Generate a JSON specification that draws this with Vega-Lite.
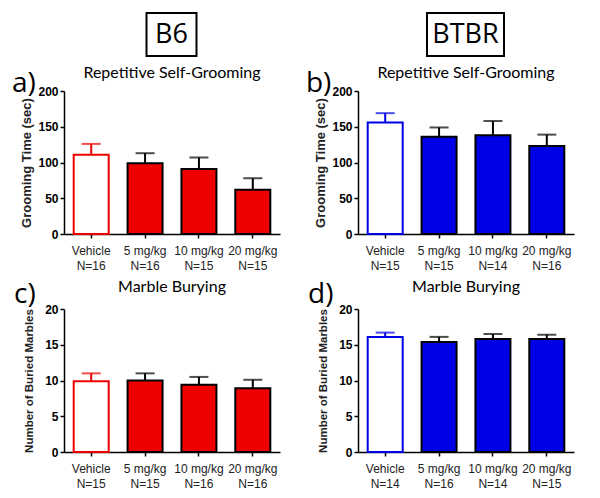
{
  "$schema": "https://vega.github.io/schema/vega-lite/v6.json",
  "background": "white",
  "padding": {"left": 11, "top": 12, "right": 5, "bottom": 5},
  "config": {
    "view": {"stroke": null},
    "font": "Liberation Sans",
    "title": {"color": "black"},
    "axisY": {"labelFontWeight": "bold", "labelFontSize": 12, "labelColor": "black", "labelOverlap": false, "labelPadding": 2, "minExtent": 26, "titleFontWeight": "bold", "titleColor": "#222", "titlePadding": 4, "tickSize": 4, "tickWidth": 1.5, "tickColor": "black", "domainColor": "black", "domainWidth": 1.5, "grid": false},
    "axisX": {"title": null, "labelAngle": 0, "labelExpr": "split(datum.label, '|')", "labelFontSize": 12, "labelLineHeight": 15, "labelColor": "#222", "labelPadding": 7, "tickSize": 4, "tickWidth": 1.5, "tickColor": "black", "domainColor": "black", "domainWidth": 1.5, "grid": false}
  },
  "datasets": {
    "bars": [
      {"panel": "a", "dose": "Vehicle", "label": "Vehicle|N=16", "mean": 111, "upper": 126},
      {"panel": "a", "dose": "5 mg/kg", "label": "5 mg/kg|N=16", "mean": 99, "upper": 113},
      {"panel": "a", "dose": "10 mg/kg", "label": "10 mg/kg|N=15", "mean": 91, "upper": 107},
      {"panel": "a", "dose": "20 mg/kg", "label": "20 mg/kg|N=15", "mean": 62, "upper": 78},
      {"panel": "b", "dose": "Vehicle", "label": "Vehicle|N=15", "mean": 156, "upper": 169},
      {"panel": "b", "dose": "5 mg/kg", "label": "5 mg/kg|N=15", "mean": 136, "upper": 149},
      {"panel": "b", "dose": "10 mg/kg", "label": "10 mg/kg|N=14", "mean": 138, "upper": 158},
      {"panel": "b", "dose": "20 mg/kg", "label": "20 mg/kg|N=16", "mean": 123, "upper": 139},
      {"panel": "c", "dose": "Vehicle", "label": "Vehicle|N=15", "mean": 9.9, "upper": 11.0},
      {"panel": "c", "dose": "5 mg/kg", "label": "5 mg/kg|N=15", "mean": 10.0, "upper": 11.0},
      {"panel": "c", "dose": "10 mg/kg", "label": "10 mg/kg|N=16", "mean": 9.4, "upper": 10.5},
      {"panel": "c", "dose": "20 mg/kg", "label": "20 mg/kg|N=16", "mean": 8.9, "upper": 10.1},
      {"panel": "d", "dose": "Vehicle", "label": "Vehicle|N=14", "mean": 16.1, "upper": 16.7},
      {"panel": "d", "dose": "5 mg/kg", "label": "5 mg/kg|N=16", "mean": 15.4, "upper": 16.1},
      {"panel": "d", "dose": "10 mg/kg", "label": "10 mg/kg|N=14", "mean": 15.8, "upper": 16.5},
      {"panel": "d", "dose": "20 mg/kg", "label": "20 mg/kg|N=15", "mean": 15.8, "upper": 16.4}
    ]
  },
  "hconcat": [
    {
      "center": true,
      "spacing": 8,
      "vconcat": [
        {
          "width": 50, "height": 43,
          "view": {"stroke": "black", "strokeWidth": 2},
          "data": {"values": [{"strain": "B6"}]},
          "mark": {"type": "text", "fontSize": 27, "font": "Open Sans", "baseline": "middle", "color": "black"},
          "encoding": {"text": {"field": "strain"}}
        },
        {
          "title": {"text": "a)", "anchor": "start", "fontSize": 28, "font": "Open Sans", "fontWeight": "normal", "offset": -33, "dx": -9},
          "vconcat": [
            {
              "width": 216, "height": 143,
              "title": {"text": "Repetitive Self-Grooming", "fontSize": 16, "font": "Lato", "fontWeight": "normal", "offset": 4, "frame": "group"},
              "data": {"name": "bars"},
              "transform": [{"filter": "datum.panel === 'a'"}],
              "encoding": {
                "x": {"field": "label", "type": "nominal", "sort": null,
                      "scale": {"paddingInner": 0.35, "paddingOuter": 0.18}},
                "y": {"field": "mean", "type": "quantitative", "title": "Grooming Time (sec)",
                      "scale": {"domain": [0, 200], "nice": false},
                      "axis": {"values": [0, 50, 100, 150, 200], "titleFontSize": 13}}
              },
              "layer": [
                {
                  "mark": {"type": "bar", "strokeWidth": 2},
                  "encoding": {
                    "fill": {"condition": {"test": "datum.dose === 'Vehicle'", "value": "white"}, "value": "#ee0000"},
                    "stroke": {"condition": {"test": "datum.dose === 'Vehicle'", "value": "#ee0000"}, "value": "black"}
                  }
                },
                {
                  "mark": {"type": "rule", "strokeWidth": 2},
                  "encoding": {
                    "y2": {"field": "upper"},
                    "color": {"condition": {"test": "datum.dose === 'Vehicle'", "value": "#ee0000"}, "value": "black"}
                  }
                },
                {
                  "mark": {"type": "tick", "thickness": 2, "size": 19},
                  "encoding": {
                    "y": {"field": "upper", "type": "quantitative", "title": "Grooming Time (sec)", "axis": {"values": [0, 50, 100, 150, 200], "titleFontSize": 13}},
                    "color": {"condition": {"test": "datum.dose === 'Vehicle'", "value": "#ee0000"}, "value": "black"}
                  }
                }
              ]
            }
          ]
        },
        {
          "title": {"text": "c)", "anchor": "start", "fontSize": 28, "font": "Open Sans", "fontWeight": "normal", "offset": -30, "dx": -9},
          "vconcat": [
            {
              "width": 216, "height": 143,
              "title": {"text": "Marble Burying", "fontSize": 16, "font": "Lato", "fontWeight": "normal", "offset": 8, "frame": "group"},
              "data": {"name": "bars"},
              "transform": [{"filter": "datum.panel === 'c'"}],
              "encoding": {
                "x": {"field": "label", "type": "nominal", "sort": null,
                      "scale": {"paddingInner": 0.35, "paddingOuter": 0.18}},
                "y": {"field": "mean", "type": "quantitative", "title": "Number of Buried Marbles",
                      "scale": {"domain": [0, 20], "nice": false},
                      "axis": {"values": [0, 5, 10, 15, 20], "titleFontSize": 11.5}}
              },
              "layer": [
                {
                  "mark": {"type": "bar", "strokeWidth": 2},
                  "encoding": {
                    "fill": {"condition": {"test": "datum.dose === 'Vehicle'", "value": "white"}, "value": "#ee0000"},
                    "stroke": {"condition": {"test": "datum.dose === 'Vehicle'", "value": "#ee0000"}, "value": "black"}
                  }
                },
                {
                  "mark": {"type": "rule", "strokeWidth": 2},
                  "encoding": {
                    "y2": {"field": "upper"},
                    "color": {"condition": {"test": "datum.dose === 'Vehicle'", "value": "#ee0000"}, "value": "black"}
                  }
                },
                {
                  "mark": {"type": "tick", "thickness": 2, "size": 19},
                  "encoding": {
                    "y": {"field": "upper", "type": "quantitative", "title": "Number of Buried Marbles", "axis": {"values": [0, 5, 10, 15, 20], "titleFontSize": 11.5}},
                    "color": {"condition": {"test": "datum.dose === 'Vehicle'", "value": "#ee0000"}, "value": "black"}
                  }
                }
              ]
            }
          ]
        }
      ]
    },
    {
      "center": true,
      "spacing": 8,
      "vconcat": [
        {
          "width": 77, "height": 43,
          "view": {"stroke": "black", "strokeWidth": 2},
          "data": {"values": [{"strain": "BTBR"}]},
          "mark": {"type": "text", "fontSize": 27, "font": "Open Sans", "baseline": "middle", "color": "black"},
          "encoding": {"text": {"field": "strain"}}
        },
        {
          "title": {"text": "b)", "anchor": "start", "fontSize": 28, "font": "Open Sans", "fontWeight": "normal", "offset": -33, "dx": -9},
          "vconcat": [
            {
              "width": 216, "height": 143,
              "title": {"text": "Repetitive  Self-Grooming", "fontSize": 16, "font": "Lato", "fontWeight": "normal", "offset": 4, "frame": "group"},
              "data": {"name": "bars"},
              "transform": [{"filter": "datum.panel === 'b'"}],
              "encoding": {
                "x": {"field": "label", "type": "nominal", "sort": null,
                      "scale": {"paddingInner": 0.35, "paddingOuter": 0.18}},
                "y": {"field": "mean", "type": "quantitative", "title": "Grooming Time (sec)",
                      "scale": {"domain": [0, 200], "nice": false},
                      "axis": {"values": [0, 50, 100, 150, 200], "titleFontSize": 13}}
              },
              "layer": [
                {
                  "mark": {"type": "bar", "strokeWidth": 2},
                  "encoding": {
                    "fill": {"condition": {"test": "datum.dose === 'Vehicle'", "value": "white"}, "value": "#0000e6"},
                    "stroke": {"condition": {"test": "datum.dose === 'Vehicle'", "value": "#0000e6"}, "value": "black"}
                  }
                },
                {
                  "mark": {"type": "rule", "strokeWidth": 2},
                  "encoding": {
                    "y2": {"field": "upper"},
                    "color": {"condition": {"test": "datum.dose === 'Vehicle'", "value": "#0000e6"}, "value": "black"}
                  }
                },
                {
                  "mark": {"type": "tick", "thickness": 2, "size": 19},
                  "encoding": {
                    "y": {"field": "upper", "type": "quantitative", "title": "Grooming Time (sec)", "axis": {"values": [0, 50, 100, 150, 200], "titleFontSize": 13}},
                    "color": {"condition": {"test": "datum.dose === 'Vehicle'", "value": "#0000e6"}, "value": "black"}
                  }
                }
              ]
            }
          ]
        },
        {
          "title": {"text": "d)", "anchor": "start", "fontSize": 28, "font": "Open Sans", "fontWeight": "normal", "offset": -30, "dx": -9},
          "vconcat": [
            {
              "width": 216, "height": 143,
              "title": {"text": "Marble Burying", "fontSize": 16, "font": "Lato", "fontWeight": "normal", "offset": 8, "frame": "group"},
              "data": {"name": "bars"},
              "transform": [{"filter": "datum.panel === 'd'"}],
              "encoding": {
                "x": {"field": "label", "type": "nominal", "sort": null,
                      "scale": {"paddingInner": 0.35, "paddingOuter": 0.18}},
                "y": {"field": "mean", "type": "quantitative", "title": "Number of Buried Marbles",
                      "scale": {"domain": [0, 20], "nice": false},
                      "axis": {"values": [0, 5, 10, 15, 20], "titleFontSize": 11.5}}
              },
              "layer": [
                {
                  "mark": {"type": "bar", "strokeWidth": 2},
                  "encoding": {
                    "fill": {"condition": {"test": "datum.dose === 'Vehicle'", "value": "white"}, "value": "#0000e6"},
                    "stroke": {"condition": {"test": "datum.dose === 'Vehicle'", "value": "#0000e6"}, "value": "black"}
                  }
                },
                {
                  "mark": {"type": "rule", "strokeWidth": 2},
                  "encoding": {
                    "y2": {"field": "upper"},
                    "color": {"condition": {"test": "datum.dose === 'Vehicle'", "value": "#0000e6"}, "value": "black"}
                  }
                },
                {
                  "mark": {"type": "tick", "thickness": 2, "size": 19},
                  "encoding": {
                    "y": {"field": "upper", "type": "quantitative", "title": "Number of Buried Marbles", "axis": {"values": [0, 5, 10, 15, 20], "titleFontSize": 11.5}},
                    "color": {"condition": {"test": "datum.dose === 'Vehicle'", "value": "#0000e6"}, "value": "black"}
                  }
                }
              ]
            }
          ]
        }
      ]
    }
  ],
  "spacing": 25
}
